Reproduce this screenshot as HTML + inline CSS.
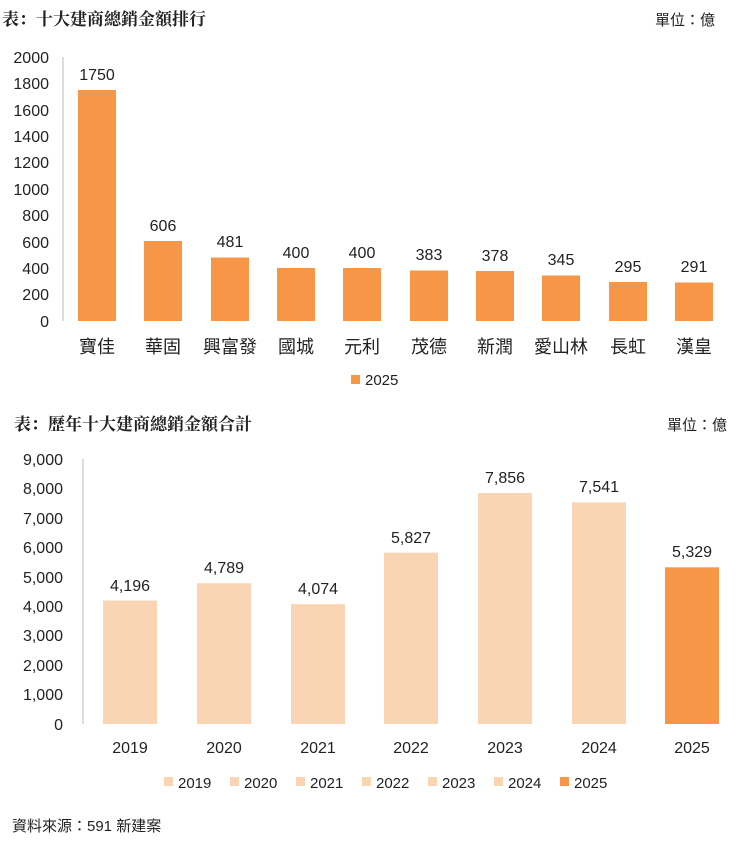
<!DOCTYPE html>
<html><head><meta charset="utf-8"><style>
body{margin:0;background:#fff;width:739px;height:842px;overflow:hidden}
svg text{font-family:"Liberation Sans","Noto Sans CJK TC",sans-serif;fill:#222}
.t{font-family:"Liberation Serif","Noto Serif CJK SC",serif !important;font-weight:bold}
</style></head><body>
<svg width="739" height="842" xmlns="http://www.w3.org/2000/svg">
<text class="t" x="2" y="25" font-size="17">表：十大建商總銷金額排行</text>
<text x="655" y="25" font-size="15">單位：億</text>
<line x1="63" y1="57" x2="63" y2="321" stroke="#bbb"/>
<g font-size="16" text-anchor="end">
<text x="49" y="63">2000</text><text x="49" y="89">1800</text><text x="49" y="116">1600</text><text x="49" y="142">1400</text><text x="49" y="168">1200</text><text x="49" y="195">1000</text><text x="49" y="221">800</text><text x="49" y="248">600</text><text x="49" y="274">400</text><text x="49" y="300">200</text><text x="49" y="327">0</text>
</g>
<g fill="#f79646">
<rect x="78" y="90" width="38" height="231"/>
<rect x="144" y="241" width="38" height="80"/>
<rect x="211" y="257.5" width="38" height="63.5"/>
<rect x="277" y="268" width="38" height="53"/>
<rect x="343" y="268" width="38" height="53"/>
<rect x="410" y="270.5" width="38" height="50.5"/>
<rect x="476" y="271" width="38" height="50"/>
<rect x="542" y="275.5" width="38" height="45.5"/>
<rect x="609" y="282" width="38" height="39"/>
<rect x="675" y="282.5" width="38" height="38.5"/>
</g>
<g font-size="16" text-anchor="middle">
<text x="97" y="80">1750</text><text x="163" y="231">606</text><text x="230" y="247">481</text><text x="296" y="258">400</text><text x="362" y="258">400</text><text x="429" y="260">383</text><text x="495" y="261">378</text><text x="561" y="265">345</text><text x="628" y="272">295</text><text x="694" y="272">291</text>
</g>
<g font-size="18" text-anchor="middle">
<text x="97" y="353">寶佳</text><text x="163" y="353">華固</text><text x="230" y="353">興富發</text><text x="296" y="353">國城</text><text x="362" y="353">元利</text><text x="429" y="353">茂德</text><text x="495" y="353">新潤</text><text x="561" y="353">愛山林</text><text x="628" y="353">長虹</text><text x="694" y="353">漢皇</text>
</g>
<rect x="351" y="375" width="9" height="9" fill="#f79646"/>
<text x="365" y="385" font-size="15">2025</text>

<text class="t" x="14" y="430" font-size="17">表：歷年十大建商總銷金額合計</text>
<text x="667" y="430" font-size="15">單位：億</text>
<line x1="83" y1="459" x2="83" y2="724" stroke="#bbb"/>
<g font-size="16" text-anchor="end">
<text x="63" y="465">9,000</text><text x="63" y="494">8,000</text><text x="63" y="524">7,000</text><text x="63" y="553">6,000</text><text x="63" y="583">5,000</text><text x="63" y="612">4,000</text><text x="63" y="641">3,000</text><text x="63" y="671">2,000</text><text x="63" y="700">1,000</text><text x="63" y="730">0</text>
</g>
<g fill="#fad5b3">
<rect x="103" y="600.6" width="54" height="123.4"/>
<rect x="197" y="583.2" width="54" height="140.8"/>
<rect x="291" y="604.2" width="54" height="119.8"/>
<rect x="384" y="552.7" width="54" height="171.3"/>
<rect x="478" y="493" width="54" height="231"/>
<rect x="572" y="502.3" width="54" height="221.7"/>
</g>
<rect x="665" y="567.3" width="54" height="156.7" fill="#f79646"/>
<g font-size="16" text-anchor="middle">
<text x="130" y="591">4,196</text><text x="224" y="573">4,789</text><text x="318" y="594">4,074</text><text x="411" y="543">5,827</text><text x="505" y="483">7,856</text><text x="599" y="492">7,541</text><text x="692" y="557">5,329</text>
</g>
<g font-size="16" text-anchor="middle">
<text x="130" y="753">2019</text><text x="224" y="753">2020</text><text x="318" y="753">2021</text><text x="411" y="753">2022</text><text x="505" y="753">2023</text><text x="599" y="753">2024</text><text x="692" y="753">2025</text>
</g>
<g font-size="15">
<rect x="164" y="777" width="9" height="9" fill="#fad5b3"/><text x="178" y="788">2019</text>
<rect x="230" y="777" width="9" height="9" fill="#fad5b3"/><text x="244" y="788">2020</text>
<rect x="296" y="777" width="9" height="9" fill="#fad5b3"/><text x="310" y="788">2021</text>
<rect x="362" y="777" width="9" height="9" fill="#fad5b3"/><text x="376" y="788">2022</text>
<rect x="428" y="777" width="9" height="9" fill="#fad5b3"/><text x="442" y="788">2023</text>
<rect x="494" y="777" width="9" height="9" fill="#fad5b3"/><text x="508" y="788">2024</text>
<rect x="560" y="777" width="9" height="9" fill="#f79646"/><text x="574" y="788">2025</text>
</g>
<text x="12" y="831" font-size="15">資料來源：591 新建案</text>
</svg>
</body></html>
